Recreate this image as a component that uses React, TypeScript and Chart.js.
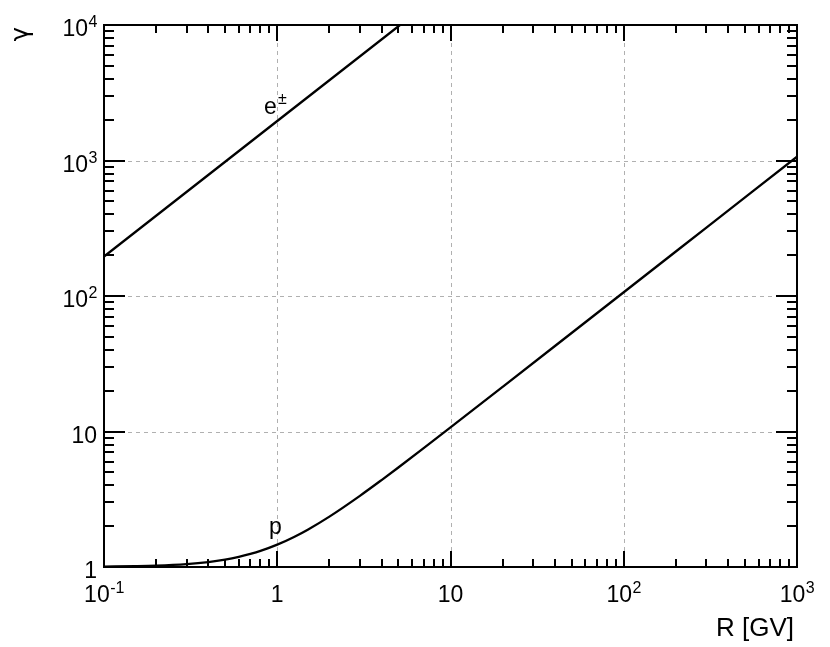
import React, { useEffect, useRef } from "react";
import { Chart, registerables } from "chart.js";

Chart.register(...registerables);

// Rigidity R [GV] and Lorentz factor gamma
const protonR = [0.1, 0.15, 0.2, 0.3, 0.4, 0.5, 0.6, 0.7, 0.8, 1, 1.25, 1.5, 2, 3, 4, 5, 7, 10, 20, 50, 100, 300, 1000];
const protonGamma = [1.006, 1.013, 1.022, 1.05, 1.087, 1.133, 1.187, 1.248, 1.314, 1.462, 1.667, 1.886, 2.355, 3.352, 4.38, 5.424, 7.529, 10.71, 21.35, 53.32, 106.6, 319.8, 1066];
const electronR = [0.1, 1, 5.11];
const electronGamma = [195.7, 1957, 10000];

const xMajor = [0.1, 1, 10, 100, 1000];
const xMajorLabels: [string, string][] = [["10", "-1"], ["1", ""], ["10", ""], ["10", "2"], ["10", "3"]];
const yMajor = [1, 10, 100, 1000, 10000];
const yMajorLabels: [string, string][] = [["1", ""], ["10", ""], ["10", "2"], ["10", "3"], ["10", "4"]];

const FONT = "'Liberation Sans', Arial, Helvetica, sans-serif";

const framePlugin = {
  id: "rootFrame",
  afterDatasetsDraw(chart: any) {
    const ctx = chart.ctx as CanvasRenderingContext2D;
    const xs = chart.scales.x;
    const ys = chart.scales.y;
    const { left, right, top, bottom } = chart.chartArea;
    ctx.save();

    // frame
    ctx.strokeStyle = "#000";
    ctx.lineWidth = 2;
    ctx.strokeRect(left, top, right - left, bottom - top);

    // ticks
    ctx.lineWidth = 2;
    ctx.beginPath();
    for (let d = -1; d <= 3; d++) {
      for (let m = 1; m <= 9; m++) {
        const v = m * Math.pow(10, d);
        if (v > 1000 + 1e-9) continue;
        const px = Math.round(xs.getPixelForValue(v));
        const len = m === 1 ? 16 : 8;
        ctx.moveTo(px, bottom);
        ctx.lineTo(px, bottom - len);
        ctx.moveTo(px, top);
        ctx.lineTo(px, top + len);
      }
    }
    for (let d = 0; d <= 4; d++) {
      for (let m = 1; m <= 9; m++) {
        const v = m * Math.pow(10, d);
        if (v > 10000 + 1e-9) continue;
        const py = Math.round(ys.getPixelForValue(v));
        const len = m === 1 ? 21 : 10;
        ctx.moveTo(left, py);
        ctx.lineTo(left + len, py);
        ctx.moveTo(right, py);
        ctx.lineTo(right - len, py);
      }
    }
    ctx.stroke();

    // labels
    const drawLabel = (base: string, sup: string, x: number, y: number, align: "center" | "right") => {
      ctx.font = `23px ${FONT}`;
      const wb = ctx.measureText(base).width;
      ctx.font = `16px ${FONT}`;
      const ws = sup ? ctx.measureText(sup).width : 0;
      const total = wb + ws;
      const x0 = align === "center" ? x - total / 2 : x - total;
      ctx.fillStyle = "#000";
      ctx.textAlign = "left";
      ctx.textBaseline = "alphabetic";
      ctx.font = `23px ${FONT}`;
      ctx.fillText(base, x0, y);
      if (sup) {
        ctx.font = `16px ${FONT}`;
        ctx.fillText(sup, x0 + wb + 0.5, y - 9);
      }
    };
    xMajor.forEach((v, i) => {
      const px = xs.getPixelForValue(v);
      drawLabel(xMajorLabels[i][0], xMajorLabels[i][1], px, 602, "center");
    });
    yMajor.forEach((v, i) => {
      const py = ys.getPixelForValue(v);
      drawLabel(yMajorLabels[i][0], yMajorLabels[i][1], left - 7, py + 11, "right");
    });

    // axis titles
    ctx.font = `26px ${FONT}`;
    ctx.textAlign = "right";
    ctx.textBaseline = "alphabetic";
    ctx.fillText("R [GV]", right - 3, 636);
    ctx.save();
    ctx.translate(28, top + 2);
    ctx.rotate(-Math.PI / 2);
    ctx.textAlign = "right";
    ctx.font = `24px 'DejaVu Sans', ${FONT}`;
    ctx.fillText("γ", 0, 0);
    ctx.restore();

    // curve annotations
    ctx.textAlign = "left";
    ctx.font = `23px ${FONT}`;
    ctx.fillText("e", 264, 114);
    ctx.font = `16px ${FONT}`;
    ctx.fillText("±", 278, 104);
    ctx.font = `23px ${FONT}`;
    ctx.fillText("p", 269, 534);

    ctx.restore();
  },
  beforeDatasetsDraw(chart: any) {
    const ctx = chart.ctx as CanvasRenderingContext2D;
    const xs = chart.scales.x;
    const ys = chart.scales.y;
    const { left, right, top, bottom } = chart.chartArea;
    ctx.save();
    ctx.strokeStyle = "#b0b0b0";
    ctx.lineWidth = 1;
    ctx.setLineDash([4, 4]);
    ctx.beginPath();
    [1, 10, 100].forEach((v) => {
      const px = Math.round(xs.getPixelForValue(v)) + 0.5;
      ctx.moveTo(px, bottom);
      ctx.lineTo(px, top);
    });
    [10, 100, 1000].forEach((v) => {
      const py = Math.round(ys.getPixelForValue(v)) + 0.5;
      ctx.moveTo(left, py);
      ctx.lineTo(right, py);
    });
    ctx.stroke();
    ctx.restore();
  },
};

export default function App() {
  const ref = useRef<HTMLCanvasElement | null>(null);
  useEffect(() => {
    if (!ref.current) return;
    const chart = new Chart(ref.current, {
      type: "scatter",
      data: {
        datasets: [
          {
            label: "p",
            data: protonR.map((r, i) => ({ x: r, y: protonGamma[i] })),
            showLine: true,
            borderColor: "#000",
            borderWidth: 2.3,
            pointRadius: 0,
            cubicInterpolationMode: "monotone",
          },
          {
            label: "e±",
            data: electronR.map((r, i) => ({ x: r, y: electronGamma[i] })),
            showLine: true,
            borderColor: "#000",
            borderWidth: 2.3,
            pointRadius: 0,
          },
        ],
      },
      options: {
        responsive: false,
        animation: false,
        layout: { padding: { left: 104, top: 25, right: 33, bottom: 80 } },
        plugins: { legend: { display: false }, tooltip: { enabled: false } },
        scales: {
          x: { type: "logarithmic", min: 0.1, max: 1000, display: false },
          y: { type: "logarithmic", min: 1, max: 10000, display: false },
        },
      },
      plugins: [framePlugin],
    });
    return () => chart.destroy();
  }, []);
  return (
    <div style={{ position: "absolute", left: 0, top: 0, width: 830, height: 647, background: "#fff" }}>
      <canvas ref={ref} width={830} height={647} />
    </div>
  );
}
